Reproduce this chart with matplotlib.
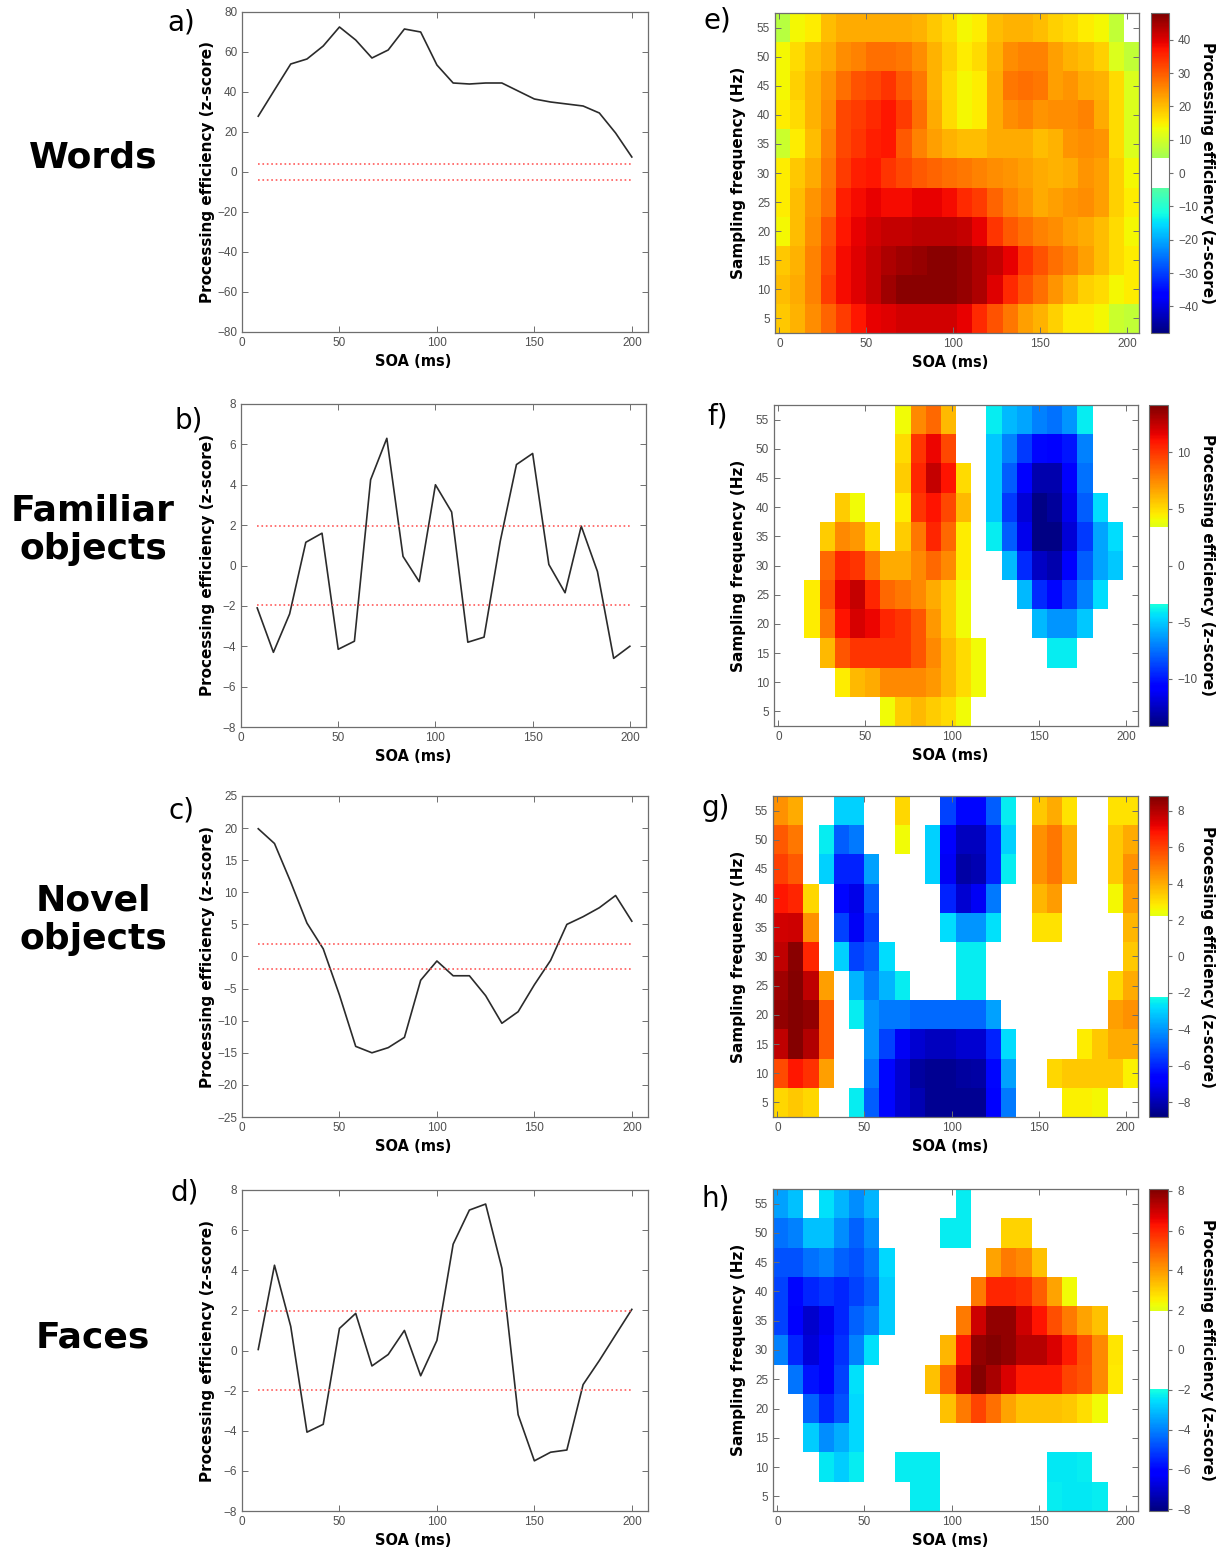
import numpy as np
import matplotlib
matplotlib.use('Agg')
import matplotlib.pyplot as plt
from matplotlib.colors import ListedColormap

W, H = 1232, 1555

# SOA grid (ms) and sampling frequencies (Hz)
soa = np.linspace(200 / 24, 200, 24)
freqs = np.arange(5, 60, 5)

# line plots (z-scores per SOA)
words_line = [27.9, 41, 54, 56.5, 63, 72.5, 66, 57, 61, 71.5, 70, 53.5,
              44.5, 44, 44.5, 44.5, 40.5, 36.5, 35, 34, 33, 29.5, 19.5, 7.5]
familiar_line = [-2.1, -4.3, -2.4, 1.15, 1.6, -4.15, -3.75, 4.25, 6.3, 0.45, -0.8, 4.0,
                 2.65, -3.8, -3.55, 1.2, 5.0, 5.55, 0.05, -1.35, 1.95, -0.3, -4.6, -4.0]
novel_line = [19.9, 17.6, 11.6, 5.2, 1.2, -6, -14, -15, -14.2, -12.6, -3.7, -0.7,
              -3, -3, -6.1, -10.4, -8.6, -4.4, -0.6, 5, 6.2, 7.6, 9.5, 5.5]
faces_line = [0.05, 4.25, 1.2, -4.07, -3.68, 1.1, 1.85, -0.77, -0.2, 1.0, -1.26, 0.5,
              5.3, 7.0, 7.3, 4.1, -3.2, -5.5, -5.07, -4.96, -1.7, -0.5, 0.78, 2.05]
line_thr = [4.2, 1.96, 2.0, 1.96]

# heatmaps: rows from 55 Hz (top) down to 5 Hz, columns = SOA
words_map = [
    [7, 14, 15, 20, 22, 22, 22, 22, 22, 21, 19, 17, 14, 15, 20, 21, 21, 20, 18, 17, 15, 14, 8, 3],
    [14, 17, 20, 22, 25, 26, 28, 28, 27, 25, 21, 18, 15, 17, 21, 25, 26, 26, 23, 21, 20, 18, 11, 8],
    [14, 18, 21, 24, 28, 31, 32, 34, 30, 27, 21, 17, 14, 15, 22, 27, 28, 27, 23, 24, 22, 21, 17, 11],
    [15, 17, 21, 25, 32, 33, 35, 37, 33, 28, 22, 17, 14, 15, 22, 25, 26, 24, 25, 25, 26, 22, 17, 11],
    [9, 15, 20, 26, 32, 34, 36, 37, 30, 26, 23, 21, 20, 20, 22, 22, 22, 20, 21, 24, 25, 24, 17, 11],
    [15, 19, 22, 27, 33, 36, 37, 34, 32, 30, 29, 28, 27, 26, 25, 24, 23, 22, 21, 22, 24, 23, 18, 14],
    [15, 20, 24, 28, 36, 38, 39, 38, 38, 39, 39, 38, 35, 33, 29, 26, 24, 22, 23, 24, 25, 23, 18, 15],
    [14, 20, 25, 31, 37, 39, 41, 42, 42, 43, 43, 43, 42, 39, 34, 30, 28, 26, 25, 23, 22, 20, 17, 14],
    [19, 21, 26, 32, 38, 40, 42, 44, 45, 46, 47, 47, 46, 44, 42, 39, 34, 31, 28, 26, 23, 20, 17, 15],
    [20, 22, 26, 33, 38, 40, 42, 45, 47, 47, 47, 47, 46, 44, 40, 35, 31, 28, 24, 21, 18, 17, 14, 15],
    [19, 21, 25, 29, 33, 37, 39, 40, 41, 41, 41, 41, 39, 35, 31, 27, 23, 21, 18, 15, 15, 14, 9, 8],
]
familiar_map = [
    [0, 0, 0, 0, 0, 0, 0, 0, 4, 7.5, 8.5, 6, 0, 0, -4, -5.5, -6, -7, -7.5, -6.5, -4, 0, 0, 0],
    [0, 0, 0, 0, 0, 0, 0, 0, 5, 10, 11.5, 9.5, 0, 0, -5, -7, -9, -10.5, -11, -10, -7, 0, 0, 0],
    [0, 0, 0, 0, 0, 0, 0, 0, 5.5, 10.5, 12.5, 11, 5, 0, -5, -8, -11, -13, -13, -11, -7.5, 0, 0, 0],
    [0, 0, 0, 0, 5.5, 4, 0, 0, 4.5, 10, 11, 9.5, 6, 0, -5, -9, -12, -14, -13.5, -11.5, -8, -4.5, 0, 0],
    [0, 0, 0, 5.5, 7.5, 7, 5, 0, 5.5, 8, 10.5, 8.5, 4.5, 0, -4, -8, -11.5, -14, -14, -12, -9, -6, -4.5, 0],
    [0, 0, 0, 8.5, 10.5, 10, 8, 6.5, 6.5, 7.5, 8.5, 7.5, 4.5, 0, 0, -5.5, -9.5, -12.5, -13, -11, -8, -6, -5, 0],
    [0, 0, 4.5, 9, 11.5, 12.5, 10.5, 8.5, 8, 7.5, 6.5, 5.5, 4, 0, 0, 0, -5.5, -9.5, -10.5, -9, -7, -4.5, 0, 0],
    [0, 0, 4.5, 8, 11, 12, 11.5, 10.5, 10, 9, 7, 5.5, 4, 0, 0, 0, 0, -5.5, -6.5, -6.5, -5, 0, 0, 0],
    [0, 0, 0, 6, 9, 10, 10, 10, 10, 9, 7.5, 6, 5, 4, 0, 0, 0, 0, -4, -4, 0, 0, 0, 0],
    [0, 0, 0, 0, 4.5, 6, 6.5, 7.5, 7.5, 7.5, 7, 6, 5, 4, 0, 0, 0, 0, 0, 0, 0, 0, 0, 0],
    [0, 0, 0, 0, 0, 0, 0, 4, 5.5, 6, 5.5, 5, 4, 0, 0, 0, 0, 0, 0, 0, 0, 0, 0, 0],
]
novel_map = [
    [4.5, 4, 0, 0, -3, -3, 0, 0, 3.2, 0, 0, -5.5, -6.5, -6.5, -5, -2.5, 0, 3.5, 4, 3, 0, 0, 3, 3],
    [5.5, 5, 0, -2.5, -5, -4.5, 0, 0, 2.5, 0, -3, -6.8, -7.8, -7.8, -6, -3, 0, 4.5, 5, 4, 0, 0, 3.5, 4],
    [6, 5.5, 0, -3, -6, -6, -3.8, 0, 0, 0, -3, -7, -8.2, -8, -6, -2.5, 0, 4.5, 5, 4, 0, 0, 3.5, 4.5],
    [6.8, 6.5, 3.2, 0, -6.5, -7.2, -5, 0, 0, 0, 0, -6, -7.5, -7, -4.5, 0, 0, 3.8, 4.3, 0, 0, 0, 2.6, 4.3],
    [7.5, 7.6, 4.5, 0, -5.5, -7, -5.5, 0, 0, 0, 0, -2.8, -4, -4, -2.7, 0, 0, 3, 3, 0, 0, 0, 0, 3.8],
    [7.8, 8.6, 6.5, 0, -3, -5.5, -5, -2.8, 0, 0, 0, 0, -2.5, -2.5, 0, 0, 0, 0, 0, 0, 0, 0, 0, 3.5],
    [8.3, 8.7, 7.8, 4.2, 0, -3.5, -4.5, -3.5, -2.5, 0, 0, 0, -2.5, -2.5, 0, 0, 0, 0, 0, 0, 0, 0, 3.2, 4],
    [8.5, 8.7, 8.5, 5.5, 0, -2.5, -4, -4.5, -4.5, -4.8, -4.8, -4.8, -4.8, -4.8, -3.8, 0, 0, 0, 0, 0, 0, 0, 4.2, 4.5],
    [7.8, 8.7, 8, 5.5, 0, 0, -4, -5.5, -7, -7.5, -7.8, -7.8, -7.5, -7.5, -6, -2.8, 0, 0, 0, 0, 2.8, 3.5, 4, 4],
    [5.8, 6.8, 6.3, 4.2, 0, 0, -4.5, -6.5, -7.5, -8.3, -8.5, -8.5, -8.3, -8.2, -6.5, -3.8, 0, 0, 3.2, 3.5, 3.5, 3.5, 3.5, 2.7],
    [3.2, 3.5, 3.2, 0, 0, -2.5, -5, -6.5, -7.5, -8, -8.5, -8.5, -8.5, -8.5, -6.8, -4.5, 0, 0, 0, 2.7, 2.7, 2.6, 0, 0],
]
faces_map = [
    [-3.5, -3, 0, -2.5, -3.2, -3.8, -3.2, 0, 0, 0, 0, 0, -2.3, 0, 0, 0, 0, 0, 0, 0, 0, 0, 0, 0],
    [-4.3, -4, -3, -3, -3.8, -4.5, -3.8, 0, 0, 0, 0, -2.3, -2.3, 0, 0, 3, 3, 0, 0, 0, 0, 0, 0, 0],
    [-4.8, -4.8, -4.3, -4, -4.5, -4.8, -4.2, -2.6, 0, 0, 0, 0, 0, 0, 3.8, 4.5, 4.3, 3.3, 0, 0, 0, 0, 0, 0],
    [-5, -6, -5.5, -5.2, -5.5, -5, -4.5, -2.8, 0, 0, 0, 0, 0, 4.5, 6, 6, 5.8, 5, 3.8, 2.3, 0, 0, 0, 0],
    [-5, -6.2, -7, -6.5, -5.5, -4.5, -4, -2.8, 0, 0, 0, 0, 4.5, 7, 7.8, 7.8, 7, 6.3, 5.3, 4.5, 3.8, 3.3, 0, 0],
    [-4, -5.5, -6.8, -6.3, -5.3, -4, -2.5, 0, 0, 0, 0, 3.5, 6.2, 7.8, 8, 7.8, 7.3, 7.3, 6.8, 6.2, 5.3, 4.3, 2.7, 0],
    [0, -4.2, -5.8, -6.3, -5, -2.5, 0, 0, 0, 0, 3.3, 5, 7, 8, 7.5, 6.8, 6.2, 6.2, 6.2, 5.5, 5.2, 4.3, 2.6, 0],
    [0, 0, -4.5, -5.5, -4.8, -2.6, 0, 0, 0, 0, 0, 3.3, 4.5, 5.5, 4.7, 3.8, 3.3, 3.3, 3.3, 3.2, 2.8, 2.3, 0, 0],
    [0, 0, -2.8, -3.8, -3.3, -2.6, 0, 0, 0, 0, 0, 0, 0, 0, 0, 0, 0, 0, 0, 0, 0, 0, 0, 0],
    [0, 0, 0, -2.4, -2.8, -2.3, 0, 0, -2.3, -2.3, -2.3, 0, 0, 0, 0, 0, 0, 0, -2.4, -2.4, -2.3, 0, 0, 0],
    [0, 0, 0, 0, 0, 0, 0, 0, 0, -2.3, -2.3, 0, 0, 0, 0, 0, 0, 0, -2.3, -2.4, -2.4, -2.3, 0, 0],
]
map_vmax = [48, 14.2, 8.8, 8.1]
map_thr = [4.5, 3.5, 2.2, 2.0]
cbar_ticks = [np.arange(-40, 41, 10), [-10, -5, 0, 5, 10],
              np.arange(-8, 9, 2), np.arange(-8, 9, 2)]

categories = ['Words', 'Familiar\nobjects', 'Novel\nobjects', 'Faces']
cat_y = [157, 530, 920, 1338]

# panel boxes in pixels: left, top, right, bottom
line_boxes = [(242, 12, 648, 332), (241, 404, 646, 727),
              (242, 796, 648, 1117), (242, 1190, 648, 1511)]
heat_boxes = [(775, 13, 1139, 333), (774, 405, 1138, 726),
              (773, 796, 1138, 1117), (773, 1189, 1138, 1511)]
cbar_boxes = [(1151, 13, 1169, 333), (1149, 405, 1168, 726),
              (1149, 796, 1168, 1117), (1149, 1189, 1168, 1511)]
line_letters = [('a)', 181, 22), ('b)', 189, 420), ('c)', 182, 810), ('d)', 185, 1192)]
heat_letters = [('e)', 717, 20), ('f)', 718, 416), ('g)', 716, 808), ('h)', 716, 1198)]
line_ylims = [(-80, 80, 20), (-8, 8, 2), (-25, 25, 5), (-8, 8, 2)]

lines = [words_line, familiar_line, novel_line, faces_line]
maps = [words_map, familiar_map, novel_map, faces_map]

spine_col = '#6e6e6e'
tick_col = '#505050'
tick_font = 'Liberation Sans'


def rect(l, t, r, b):
    return [l / W, 1 - b / H, (r - l) / W, (b - t) / H]


def banded_jet(vmax, thr):
    vals = np.linspace(-vmax, vmax, 256)
    cols = plt.get_cmap('jet')(np.linspace(0, 1, 256))
    cols[np.abs(vals) < thr] = [1, 1, 1, 1]
    return ListedColormap(cols)


def style(ax):
    for s in ax.spines.values():
        s.set_color(spine_col)
        s.set_linewidth(0.9)
    ax.tick_params(direction='in', top=True, right=True, length=4, width=0.7,
                   color=spine_col, labelcolor=tick_col, labelsize=8.5)
    for lab in ax.get_xticklabels() + ax.get_yticklabels():
        lab.set_fontfamily(tick_font)


fig = plt.figure(figsize=(W / 100, H / 100), dpi=100)

for i in range(4):
    # left column: line plots
    l, t, r, b = line_boxes[i]
    ax = fig.add_axes(rect(l, t, r, b))
    ax.plot(soa, lines[i], color='#2b2b2b', lw=1.2)
    for s in (1, -1):
        ax.plot([soa[0], soa[-1]], [s * line_thr[i]] * 2, ls=':', color='#ff5a5a', lw=1.2)
    lo, hi, st = line_ylims[i]
    ax.set_ylim(lo, hi)
    ax.set_yticks(np.arange(lo, hi + st / 2, st))
    ax.set_xlim(0, 208.3)
    ax.set_xticks([0, 50, 100, 150, 200])
    style(ax)
    ax.set_ylabel('Processing efficiency (z-score)', fontsize=11, fontweight='bold')
    ax.yaxis.set_label_coords((215 - l) / (r - l), 0.5)
    ax.set_xlabel('SOA (ms)', fontsize=10.5, fontweight='bold')
    ax.xaxis.set_label_coords((413 - l) / (r - l), -22 / (b - t))
    txt, px, py = line_letters[i]
    fig.text(px / W, 1 - py / H, txt, fontsize=20, ha='center', va='center')
    fig.text(93 / W, 1 - cat_y[i] / H, categories[i], fontsize=26, fontweight='bold',
             ha='center', va='center', linespacing=1.15)

    # right column: heatmaps
    l, t, r, b = heat_boxes[i]
    hx = fig.add_axes(rect(l, t, r, b))
    cmap = banded_jet(map_vmax[i], map_thr[i])
    xedges = np.linspace(-2.5, 207, 25)
    yedges = np.append(freqs - 2.5, freqs[-1] + 2.5)
    z = np.array(maps[i], dtype=float)[::-1]
    mesh = hx.pcolormesh(xedges, yedges, z, cmap=cmap,
                         vmin=-map_vmax[i], vmax=map_vmax[i])
    hx.set_xlim(xedges[0], xedges[-1])
    hx.set_ylim(yedges[0], yedges[-1])
    hx.set_xticks([0, 50, 100, 150, 200])
    hx.set_yticks(freqs)
    style(hx)
    hx.set_ylabel('Sampling frequency (Hz)', fontsize=11, fontweight='bold')
    hx.yaxis.set_label_coords((746 - l) / (r - l), 0.5)
    hx.set_xlabel('SOA (ms)', fontsize=10.5, fontweight='bold')
    hx.xaxis.set_label_coords((950 - l) / (r - l), -22 / (b - t))
    txt, px, py = heat_letters[i]
    fig.text(px / W, 1 - py / H, txt, fontsize=20, ha='center', va='center')

    cl, ct, cr, cbm = cbar_boxes[i]
    cax = fig.add_axes(rect(cl, ct, cr, cbm))
    cb = fig.colorbar(mesh, cax=cax)
    cb.set_ticks(cbar_ticks[i])
    cb.outline.set_edgecolor(spine_col)
    cax.tick_params(labelsize=8.5, labelcolor=tick_col, color=spine_col, length=3)
    for lab in cax.get_yticklabels():
        lab.set_fontfamily(tick_font)
    fig.text(1207 / W, 1 - (ct + cbm) / 2 / H, 'Processing efficiency (z-score)',
             rotation=270, fontsize=11, fontweight='bold', ha='center', va='center')

fig.savefig('out.png', dpi=100)
